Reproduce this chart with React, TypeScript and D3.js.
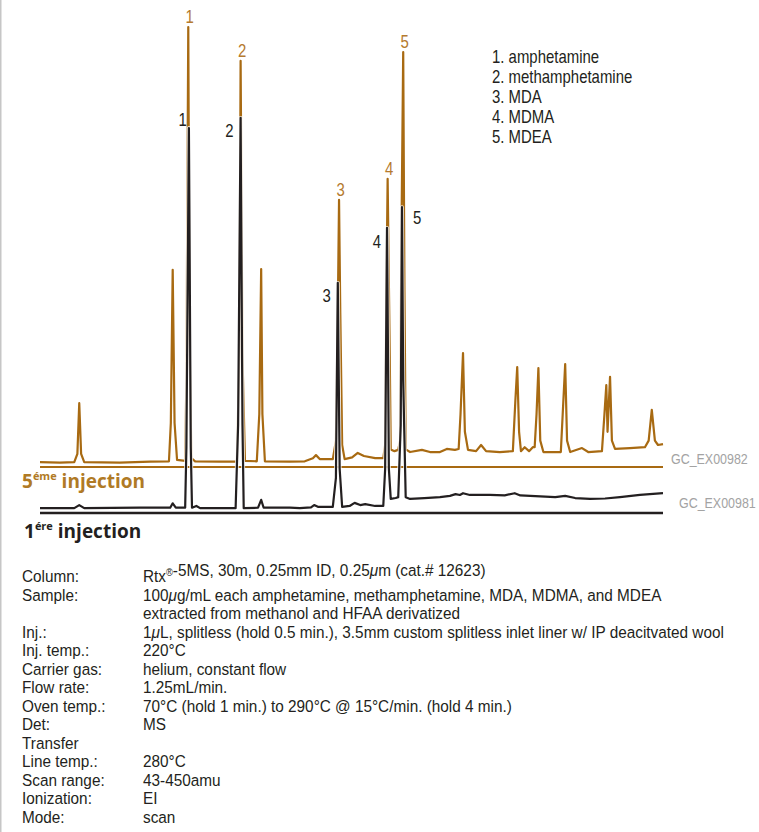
import React, { useEffect, useRef } from 'react'
import * as d3 from 'd3'

// 5th injection (GC_EX00982): [retention time, min ; abundance, %]
const fifthInjection: [number, number][] = [
  [4.00, 1.1], [4.32, 1.0], [4.55, 1.1], [4.60, 3], [4.63, 14.5], [4.66, 3], [4.71, 1.1],
  [5.28, 1.0], [5.77, 1.2], [6.07, 1.3], [6.10, 10], [6.13, 44.8], [6.16, 10], [6.20, 1.6],
  [6.33, 1.4], [6.35, 20], [6.38, 100], [6.40, 30], [6.43, 2], [6.49, 1.3],
  [6.89, 1.2], [7.16, 1.2], [7.20, 25], [7.22, 92.3], [7.25, 25], [7.29, 1.4],
  [7.48, 1.3], [7.52, 12], [7.55, 45], [7.57, 12], [7.61, 1.3],
  [8.01, 1.2], [8.25, 1.3], [8.38, 2.0], [8.43, 2.7], [8.49, 1.8],
  [8.70, 1.8], [8.75, 6], [8.78, 35], [8.80, 60.7], [8.82, 35], [8.85, 5], [8.89, 1.8],
  [9.01, 2.2], [9.10, 3.2], [9.20, 2.5], [9.38, 2.0], [9.51, 2.0],
  [9.54, 5], [9.56, 40], [9.58, 65.5], [9.61, 30], [9.63, 4],
  [9.69, 3.6], [9.75, 3.9], [9.78, 6], [9.80, 50], [9.83, 94.3], [9.85, 40], [9.87, 4],
  [9.94, 3.4], [10.13, 3.9], [10.26, 3.4], [10.42, 3.4], [10.53, 4.1], [10.66, 3.9],
  [10.72, 4.1], [10.75, 12], [10.79, 25.9], [10.82, 8], [10.87, 3.9],
  [11.00, 3.6], [11.08, 5.0], [11.16, 3.6], [11.38, 3.4], [11.59, 3.6],
  [11.63, 15], [11.66, 22.7], [11.69, 8], [11.72, 3.6], [11.78, 4.5], [11.85, 3.6], [11.91, 4.5],
  [11.94, 4.5], [11.97, 12], [12.00, 22.5], [12.03, 6], [12.08, 3.4],
  [12.36, 3.4], [12.39, 12], [12.43, 23.4], [12.46, 6], [12.51, 3.4],
  [12.70, 4.3], [12.80, 3.4], [13.02, 3.6], [13.06, 12], [13.09, 18.6], [13.11, 8],
  [13.15, 20.5], [13.18, 6], [13.23, 4.1], [13.47, 4.3], [13.71, 4.5],
  [13.77, 6], [13.82, 13], [13.87, 6], [13.92, 5.0], [14.00, 5.2]
]

// 1st injection (GC_EX00981)
const firstInjection: [number, number][] = [
  [4.00, 1.1], [4.55, 1.1], [4.63, 1.8], [4.71, 1.1], [5.60, 1.2],
  [6.09, 1.2], [6.13, 2.2], [6.18, 1.2], [6.33, 1.2],
  [6.35, 15], [6.39, 87.5], [6.42, 15], [6.44, 1.2], [6.51, 1.6], [6.57, 1.1],
  [7.14, 1.1], [7.18, 20], [7.22, 89.8], [7.25, 20], [7.27, 1.1],
  [7.50, 1.2], [7.55, 3.0], [7.59, 1.2], [8.01, 1.2], [8.17, 1.1],
  [8.35, 1.3], [8.40, 1.8], [8.46, 1.4], [8.70, 1.4],
  [8.75, 8], [8.78, 52.3], [8.81, 10], [8.85, 1.4],
  [8.97, 1.6], [9.05, 2.3], [9.14, 1.8], [9.22, 2.0], [9.38, 1.6], [9.51, 1.6],
  [9.54, 10], [9.57, 64.8], [9.60, 10], [9.63, 3.2], [9.71, 3.4],
  [9.75, 3.6], [9.79, 20], [9.81, 69.5], [9.83, 30], [9.87, 3.6],
  [9.94, 3.2], [10.17, 3.4], [10.42, 3.6], [10.58, 3.9], [10.67, 4.3], [10.74, 4.1],
  [10.79, 4.5], [10.90, 4.1], [11.22, 4.1], [11.46, 4.0], [11.62, 4.5], [11.71, 4.0],
  [12.03, 3.8], [12.27, 3.6], [12.43, 3.9], [12.59, 3.4], [12.83, 3.2], [13.07, 3.3],
  [13.31, 3.6], [13.63, 4.1], [14.00, 4.5]
]

const peakNames = ['1', '2', '3', '4', '5']
const peakTimes5 = [6.38, 7.22, 8.80, 9.58, 9.83]
const peakTops5 = [100, 92.3, 60.7, 65.5, 94.3]
const peakTimes1 = [6.39, 7.22, 8.78, 9.57, 9.81]
const peakTops1 = [87.5, 89.8, 52.3, 64.8, 69.5]

const compounds = ['amphetamine', 'methamphetamine', 'MDA', 'MDMA', 'MDEA']

const conditionLabels = [
  'Column:', 'Sample:', '', 'Inj.:', 'Inj. temp.:', 'Carrier gas:', 'Flow rate:',
  'Oven temp.:', 'Det:', 'Transfer', 'Line temp.:', 'Scan range:', 'Ionization:', 'Mode:'
]
const conditionValues = [
  'Rtx®-5MS, 30m, 0.25mm ID, 0.25μm (cat.# 12623)',
  '100μg/mL each amphetamine, methamphetamine, MDA, MDMA, and MDEA',
  'extracted from methanol and HFAA derivatized',
  '1μL, splitless (hold 0.5 min.), 3.5mm custom splitless inlet liner w/ IP deacitvated wool',
  '220°C',
  'helium, constant flow',
  '1.25mL/min.',
  '70°C (hold 1 min.) to 290°C @ 15°C/min. (hold 4 min.)',
  'MS',
  '',
  '280°C',
  '43-450amu',
  'EI',
  'scan'
]

const BROWN = '#a86a12'
const BROWN_TEXT = '#b57a2e'
const INK = '#231f20'
// no condensed face is installed, so Liberation Sans is squeezed horizontally
const SANS = '"Liberation Sans", Arial, sans-serif'
const SQUEEZE = 0.83
const BOLD = '"Open Sans", "Noto Sans", sans-serif'

// offsets of the black peak numbers from their peak tops
const blackLabelPos = [[-2, -2], [-7, 19], [-7, 19], [-6, 20], [11, 17]]

function Chromatogram() {
  const ref = useRef<SVGSVGElement>(null)

  useEffect(() => {
    const height = 832
    const svg = d3.select(ref.current)
    svg.selectAll('*').remove()

    const x = d3.scaleLinear().domain([4, 14]).range([40, 663])
    const y5 = d3.scaleLinear().domain([0, 100]).range([467, 27])
    const y1 = d3.scaleLinear().domain([0, 100]).range([513, 73])

    const narrowText = (parent: any, px: number, py: number, size: number, squeeze = SQUEEZE) =>
      parent.append('text')
        .attr('transform', `translate(${px},${py}) scale(${squeeze},1)`)
        .attr('font-family', SANS)
        .attr('font-size', size)

    // frame edge on the left
    svg.append('rect')
      .attr('x', 0).attr('y', 0)
      .attr('width', 1.5).attr('height', height)
      .attr('fill', '#c6c6c6')

    const line5 = d3.line<[number, number]>().x(d => x(d[0])).y(d => y5(d[1]))
    const line1 = d3.line<[number, number]>().x(d => x(d[0])).y(d => y1(d[1]))

    // 5th injection
    svg.append('path')
      .datum(fifthInjection)
      .attr('d', line5)
      .attr('fill', 'none')
      .attr('stroke', BROWN)
      .attr('stroke-width', 2.2)
      .attr('stroke-linejoin', 'round')

    svg.append('line')
      .attr('x1', x(4)).attr('x2', x(14))
      .attr('y1', y5(0)).attr('y2', y5(0))
      .attr('stroke', BROWN)
      .attr('stroke-width', 2)

    // 1st injection, with a white halo so it reads over the brown
    svg.append('path')
      .datum(firstInjection)
      .attr('d', line1)
      .attr('fill', 'none')
      .attr('stroke', '#fff')
      .attr('stroke-opacity', 0.8)
      .attr('stroke-width', 4)
      .attr('stroke-linejoin', 'round')

    svg.append('path')
      .datum(firstInjection)
      .attr('d', line1)
      .attr('fill', 'none')
      .attr('stroke', INK)
      .attr('stroke-width', 2.2)
      .attr('stroke-linejoin', 'round')

    svg.append('line')
      .attr('x1', x(4)).attr('x2', x(14))
      .attr('y1', y1(0)).attr('y2', y1(0))
      .attr('stroke', INK)
      .attr('stroke-width', 2.5)

    // peak numbers
    peakNames.forEach((name, i) => {
      narrowText(svg, x(peakTimes5[i]) + 1.5, y5(peakTops5[i]) - 4, 18)
        .attr('text-anchor', 'middle')
        .attr('fill', BROWN_TEXT)
        .text(name)
      const [dx, dy] = blackLabelPos[i]
      narrowText(svg, x(peakTimes1[i]) + dx, y1(peakTops1[i]) + dy, 18)
        .attr('text-anchor', dx > 0 ? 'start' : 'end')
        .attr('fill', INK)
        .text(name)
    })

    // compound list
    compounds.forEach((c, i) => {
      narrowText(svg, 492, 63 + i * 20, 18)
        .attr('fill', INK)
        .text(`${i + 1}. ${c}`)
    })

    // run ids
    narrowText(svg, 671, 464, 15).attr('fill', '#a3a3a3').text('GC_EX00982')
    narrowText(svg, 679, 508, 15).attr('fill', '#a3a3a3').text('GC_EX00981')

    // injection captions
    const cap5 = svg.append('text')
      .attr('x', 22).attr('y', 488)
      .attr('font-family', BOLD).attr('font-weight', 700)
      .attr('font-size', 19).attr('fill', '#b07a25')
    cap5.append('tspan').text('5')
    cap5.append('tspan').attr('font-size', 11).attr('dy', -8).text('éme')
    cap5.append('tspan').attr('dy', 8).text(' injection')

    const cap1 = svg.append('text')
      .attr('x', 24).attr('y', 538)
      .attr('font-family', BOLD).attr('font-weight', 700)
      .attr('font-size', 19).attr('fill', INK)
    cap1.append('tspan').text('1')
    cap1.append('tspan').attr('font-size', 11).attr('dy', -8).text('ére')
    cap1.append('tspan').attr('dy', 8).text(' injection')

    // conditions table
    conditionLabels.forEach((label, i) => {
      const yy = 582 + i * 18.54
      if (label) narrowText(svg, 22, yy, 16.5, 0.93).attr('fill', INK).text(label)
      if (!conditionValues[i]) return
      const t = narrowText(svg, 143, yy, 16.5, 0.93).attr('fill', INK)
      // superscript ® and italic μ as in the print
      const parts = conditionValues[i].split(/(®|μ)/)
      parts.forEach(p => {
        if (p === '®') {
          t.append('tspan').attr('font-size', 10).attr('dy', -6).text('®')
          t.append('tspan').attr('dy', 6).text('')
        } else if (p === 'μ') {
          t.append('tspan').attr('font-style', 'italic').text('μ')
        } else if (p) {
          t.append('tspan').text(p)
        }
      })
    })
  }, [])

  return <svg ref={ref} width={759} height={832} style={{ display: 'block' }} />
}

export default function App() {
  return (
    <div style={{ position: 'absolute', left: 0, top: 0, width: 759, height: 832, background: '#fff' }}>
      <Chromatogram />
    </div>
  )
}
